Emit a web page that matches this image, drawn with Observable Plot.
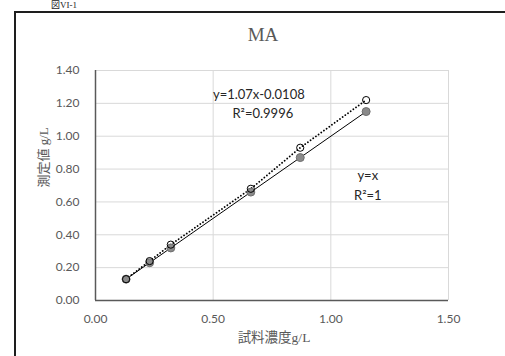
<!DOCTYPE html>
<html>
<head>
<meta charset="utf-8">
<script src="https://cdn.jsdelivr.net/npm/d3@7"></script>
<script src="https://cdn.jsdelivr.net/npm/@observablehq/plot@0.6"></script>
<style>
  html, body { margin: 0; padding: 0; background: #fff; }
  body { width: 505px; height: 356px; overflow: hidden; position: relative; }
  #frame { position: absolute; left: 14px; top: 11px; width: 620px; height: 420px;
           border-left: 2px solid #1e1e1e; border-top: 2px solid #1e1e1e; }
  #fig { position: absolute; left: 51px; top: 0px; font: 9px/10px "Liberation Serif", "Noto Sans CJK JP", serif; color: #222; }
  #title { position: absolute; left: 0; width: 526px; top: 24px; text-align: center;
           font: 19px "Liberation Serif", serif; color: #595959; }
  #chart { position: absolute; left: 0; top: 50px; }
</style>
</head>
<body>
<div id="frame"></div>
<div id="fig">図VI-1</div>
<div id="title">MA</div>
<div id="chart"></div>
<script>
// sample concentration (g/L)
const concentration = [0.13, 0.23, 0.32, 0.66, 0.87, 1.15];
// measured values (g/L)
const measured = [0.13, 0.24, 0.34, 0.68, 0.93, 1.22];
// ideal line y = x
const ideal = [0.13, 0.23, 0.32, 0.66, 0.87, 1.15];

const xTicks = [0, 0.5, 1.0, 1.5];
const yTicks = [0, 0.2, 0.4, 0.6, 0.8, 1.0, 1.2, 1.4];

const titleText = "MA";
const xLabel = "試料濃度g/L";
const yLabel = "測定値 g/L";

// annotation labels and their anchor points (data units)
const annotationTexts = ["y=1.07x-0.0108", "R²=0.9996", "y=x", "R²=1"];
const annotationX = [0.694, 0.711, 1.157, 1.157];
const annotationY = [1.254, 1.138, 0.761, 0.639];

const rows = concentration.map((c, i) => ({conc: c, measured: measured[i], ideal: ideal[i]}));
const annotations = annotationTexts.map((t, i) => ({text: t, x: annotationX[i], y: annotationY[i]}));

document.getElementById("title").textContent = titleText;

const fmt = d3.format(".2f");
const plot = Plot.plot({
  width: 505,
  height: 306,
  marginLeft: 95,
  marginRight: 57,
  marginTop: 20,
  marginBottom: 56,
  style: {fontFamily: "Lato, 'Open Sans', sans-serif", fontSize: "12px", color: "#595959", background: "transparent"},
  x: {domain: [0, 1.5]},
  y: {domain: [0, 1.4]},
  marks: [
    Plot.gridY(yTicks, {stroke: "#d9d9d9", strokeOpacity: 1}),
    Plot.gridX(xTicks, {stroke: "#d9d9d9", strokeOpacity: 1}),
    Plot.axisY(yTicks, {tickSize: 0, tickPadding: 16, tickFormat: fmt, label: null, fill: "#595959"}),
    Plot.axisX(xTicks, {tickSize: 0, tickPadding: 14, tickFormat: fmt, label: null, fill: "#595959"}),
    Plot.ruleY([0], {stroke: "#595959", strokeWidth: 1.5}),
    Plot.ruleX([0], {stroke: "#595959", strokeWidth: 1.5}),
    Plot.line(rows, {x: "conc", y: "ideal", stroke: "#000", strokeWidth: 1}),
    Plot.line(rows, {x: "conc", y: "measured", stroke: "#000", strokeWidth: 1.8, strokeDasharray: "0.1,3.2", strokeLinecap: "round"}),
    Plot.dot(rows, {x: "conc", y: "ideal", r: 4, fill: "#8a8a8a", stroke: "#6e6e6e", strokeWidth: 1}),
    Plot.dot(rows, {x: "conc", y: "measured", r: 3.6, fill: "none", stroke: "#000", strokeWidth: 1}),
    Plot.text(annotations, {x: "x", y: "y", text: "text", fontSize: 13, fill: "#262626", fontFamily: "Lato, sans-serif"}),
    Plot.text([xLabel], {frameAnchor: "bottom", dy: 41, dx: 2, fontSize: 13.5, fill: "#595959",
      fontFamily: "'Liberation Serif', 'Noto Sans CJK JP', serif"}),
    Plot.text([yLabel], {frameAnchor: "left", dx: -52, dy: 2, rotate: -90, fontSize: 13, fill: "#595959",
      fontFamily: "'Liberation Serif', 'Noto Sans CJK JP', serif"})
  ]
});
document.getElementById("chart").appendChild(plot);
</script>
</body>
</html>
